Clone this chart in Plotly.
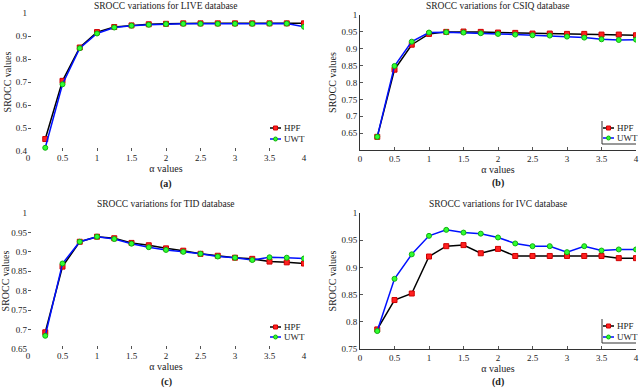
import plotly.graph_objects as go

alpha = [0.25, 0.5, 0.75, 1, 1.25, 1.5, 1.75, 2, 2.25, 2.5, 2.75, 3, 3.25, 3.5, 3.75, 4]

live_hpf = [0.452, 0.705, 0.850, 0.917, 0.939, 0.946, 0.951, 0.953, 0.955, 0.955, 0.955, 0.955, 0.955, 0.955, 0.955, 0.955]
live_uwt = [0.414, 0.690, 0.847, 0.911, 0.937, 0.945, 0.949, 0.952, 0.953, 0.953, 0.953, 0.953, 0.953, 0.954, 0.954, 0.940]

csiq_hpf = [0.639, 0.838, 0.912, 0.944, 0.950, 0.951, 0.950, 0.948, 0.947, 0.945, 0.945, 0.944, 0.944, 0.942, 0.942, 0.940]
csiq_uwt = [0.639, 0.849, 0.921, 0.948, 0.949, 0.948, 0.946, 0.944, 0.942, 0.940, 0.939, 0.936, 0.933, 0.928, 0.926, 0.927]

tid_hpf = [0.693, 0.862, 0.926, 0.939, 0.935, 0.923, 0.917, 0.909, 0.903, 0.895, 0.890, 0.885, 0.882, 0.875, 0.873, 0.870]
tid_uwt = [0.684, 0.870, 0.926, 0.939, 0.933, 0.921, 0.912, 0.905, 0.900, 0.895, 0.888, 0.885, 0.879, 0.886, 0.885, 0.883]

ivc_hpf = [0.786, 0.840, 0.852, 0.920, 0.939, 0.941, 0.926, 0.934, 0.921, 0.921, 0.921, 0.921, 0.921, 0.921, 0.917, 0.917]
ivc_uwt = [0.783, 0.879, 0.924, 0.958, 0.969, 0.964, 0.962, 0.955, 0.944, 0.939, 0.939, 0.928, 0.939, 0.931, 0.933, 0.933]

names = ["HPF", "UWT"]
panels = [
    ("SROCC variations for LIVE database", "(a)", live_hpf, live_uwt, [0.4, 1], [0.4, 0.5, 0.6, 0.7, 0.8, 0.9, 1]),
    ("SROCC variations for CSIQ database", "(b)", csiq_hpf, csiq_uwt, [0.6, 1], [0.65, 0.7, 0.75, 0.8, 0.85, 0.9, 0.95, 1]),
    ("SROCC variations for TID database", "(c)", tid_hpf, tid_uwt, [0.65, 1], [0.65, 0.7, 0.75, 0.8, 0.85, 0.9, 0.95, 1]),
    ("SROCC variations for IVC database", "(d)", ivc_hpf, ivc_uwt, [0.75, 1], [0.75, 0.8, 0.85, 0.9, 0.95, 1]),
]

W, H = 640, 388
px = lambda v: v / W
py = lambda v: 1 - v / H

# plot areas in pixels (left, right, top, bottom)
boxes = [(28, 304, 13, 151), (360, 636, 15, 150), (28, 304, 213, 349), (360, 636, 213, 349)]
title_y = [6, 6, 204, 204]
# legend: sample-line start x, first row y, row gap, framed?
legs = [(270, 128, 11, False), (603, 128, 10, True), (270, 327, 10, False), (603, 326, 11, True)]
colors = [("black", "#ff2020", "#d00000"), ("#0010ff", "#30ff30", "#10b010")]

font = "Liberation Serif"
fig = go.Figure()
ann = []
shapes = []
for i, (title, cap, hpf, uwt, yr, yt) in enumerate(panels):
    n = "" if i == 0 else str(i + 1)
    l, r, t, b = boxes[i]
    framed = legs[i][3]
    for k, (vals, sym) in enumerate([(hpf, "square"), (uwt, "circle")]):
        lc, mc, mlc = colors[k]
        fig.add_trace(go.Scatter(x=alpha, y=vals, name=names[k], mode="lines+markers",
                                 line=dict(color=lc, width=1.5),
                                 marker=dict(symbol=sym, size=5, color=mc, line=dict(color=mlc, width=1)),
                                 xaxis="x" + n, yaxis="y" + n, showlegend=False))
    fig.update_layout({
        "xaxis" + n: dict(domain=[px(l), px(r)], range=[0, 4], dtick=0.5, anchor="y" + n,
                          ticks="inside", ticklen=3, tickcolor="#555",
                          showline=framed, linecolor="#333",
                          showgrid=False, zeroline=False, automargin=False,
                          title=dict(text="α values", standoff=1, font=dict(size=10))),
        "yaxis" + n: dict(domain=[py(b), py(t)], range=yr, tickvals=yt, anchor="x" + n,
                          ticks="inside", ticklen=3, tickcolor="#555",
                          showline=framed, linecolor="#333",
                          showgrid=False, zeroline=False, automargin=False,
                          title=dict(text="SROCC values", standoff=2, font=dict(size=10))),
    })
    xc = px((l + r) / 2)
    ann.append(dict(text=title, x=xc, y=py(title_y[i]), xref="paper", yref="paper",
                    xanchor="center", yanchor="middle", showarrow=False, font=dict(size=9.5)))
    ann.append(dict(text="<b>" + cap + "</b>", x=xc, y=py(b + 33), xref="paper", yref="paper",
                    xanchor="center", yanchor="middle", showarrow=False, font=dict(size=10)))

    # hand-drawn compact legend (MATLAB style)
    lx, ly, gap, _ = legs[i]
    if framed:
        shapes.append(dict(type="line", xref="paper", yref="paper", x0=px(lx - 1), x1=px(lx - 1),
                           y0=py(ly - 7), y1=py(ly + gap + 6), line=dict(color="#333", width=1)))
        shapes.append(dict(type="line", xref="paper", yref="paper", x0=px(lx - 1), x1=px(r),
                           y0=py(ly + gap + 6), y1=py(ly + gap + 6), line=dict(color="#333", width=1)))
    for k in range(2):
        lc, mc, mlc = colors[k]
        yy = ly + k * gap
        shapes.append(dict(type="line", xref="paper", yref="paper", x0=px(lx), x1=px(lx + 11),
                           y0=py(yy), y1=py(yy), line=dict(color=lc, width=1.5)))
        shapes.append(dict(type="rect" if k == 0 else "circle", xref="paper", yref="paper",
                           x0=px(lx + 3.5), x1=px(lx + 7.5), y0=py(yy - 2), y1=py(yy + 2),
                           fillcolor=mc, line=dict(color=mlc, width=1)))
        ann.append(dict(text=names[k], x=px(lx + 12), y=py(yy), xref="paper", yref="paper",
                        xanchor="left", yanchor="middle", showarrow=False, font=dict(size=9)))

fig.update_layout(width=W, height=H, margin=dict(l=0, r=0, t=0, b=0),
                  plot_bgcolor="white", paper_bgcolor="white",
                  font=dict(family=font, size=9, color="#222"),
                  annotations=ann, shapes=shapes)
fig.write_html("out.html", config={"displayModeBar": False},
               post_script="document.body.style.margin='0';")
